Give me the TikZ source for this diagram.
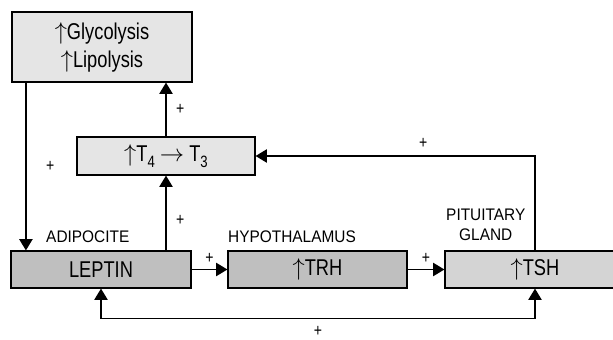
\documentclass[tikz,border=0pt]{standalone}
\usepackage{fontspec}
\setmainfont{Liberation Sans}[FakeStretch=0.8]
\newfontfamily\lblfont{Liberation Sans}[FakeStretch=0.92]
\usepackage{xcolor}
\usetikzlibrary{arrows.meta,positioning,calc}

\definecolor{boxlight}{gray}{0.90}
\definecolor{boxmid}{gray}{0.83}
\definecolor{boxdark}{gray}{0.75}
\newcommand{\lowsub}[1]{\raisebox{-0.5ex}{\fontsize{14}{14}\selectfont #1}}

\begin{document}
\begin{tikzpicture}[x=0.03cm, y=-0.03cm,
  box/.style={draw, line width=1pt, rectangle, minimum width=5.4cm,
              minimum height=1.11cm, inner sep=0pt, align=center,
              font=\fontsize{19.5}{24}\selectfont},
  lbl/.style={anchor=west, inner sep=0pt, align=center,
              font=\lblfont\fontsize{14.3}{17}\selectfont},
  pm/.style={inner sep=1pt, font=\fontsize{15}{15}\selectfont},
  rel/.style={-{Triangle[width=0.4cm,length=0.34cm]}, line width=1.2pt},
  both/.style={{Triangle[width=0.4cm,length=0.34cm]}-{Triangle[width=0.4cm,length=0.34cm]}, line width=1.2pt}
]
\useasboundingbox (0,0) rectangle (613,340);

% effects
\node[box, fill=boxlight, minimum height=2.1cm] (GL) at (102,47)
  {$\uparrow$Glycolysis\\$\uparrow$Lipolysis};
\node[box, fill=boxlight, minimum width=5.34cm, minimum height=1.14cm] (TT) at (166,156)
  {$\uparrow$T\lowsub{4} $\rightarrow$ T\lowsub{3}};

% axis
\node[box, fill=boxdark] (LP) at (101,269.5) {LEPTIN};
\node[box, fill=boxdark, minimum width=5.37cm] (TRH) at (317.5,269.5) {$\uparrow$TRH};
\node[box, fill=boxmid] (TSH) at (535,269.5) {$\uparrow$TSH};

% tissue labels
\node[lbl] (adi) at (46,237) {ADIPOCITE};
\node[lbl] (hyp) at (228,237) {HYPOTHALAMUS};
\node[lbl] (pit) at (446,225) {PITUITARY\\GLAND};

% connections
\coordinate (gl-out) at ($(GL.south west)+(14.5,0)$);
\draw[rel] (gl-out) -- node[pm, right=0.55cm]{+} (gl-out |- LP.north);
\draw[rel] (TT.north) -- node[pm, right=0.25cm]{+} (GL.south -| TT.north);
\draw[rel] (LP.north -| TT.south) -- node[pm, right=0.25cm, pos=0.4]{+} (TT.south);
\draw[rel] (LP.east) -- node[pm, above=0.12cm]{+} (TRH.west);
\draw[rel] (TRH.east) -- node[pm, above=0.12cm]{+} (TSH.west);
\draw[rel] (TSH.north) |- node[pm, above=0.18cm, pos=0.7]{+} (TT.east);
\draw[both] (LP.south) -- ++(0,30) -| node[pm, below=0.18cm, pos=0.25]{+} (TSH.south);
\end{tikzpicture}
\end{document}
